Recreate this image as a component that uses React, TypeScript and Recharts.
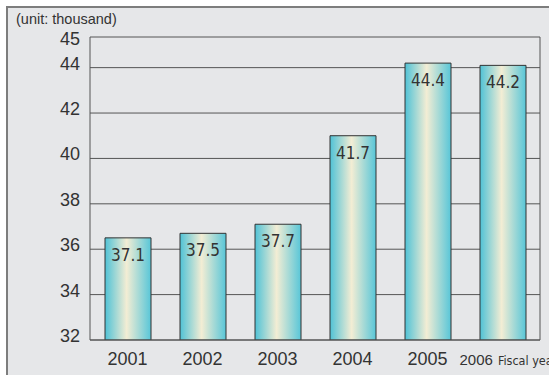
import { Bar, BarChart, CartesianGrid, LabelList, XAxis, YAxis } from 'recharts';

const years = ['2001', '2002', '2003', '2004', '2005', '2006'];
// bar heights as drawn in the picture
const barValues = [36.5, 36.7, 37.1, 41.0, 44.2, 44.1];
// figures printed on the bars
const barLabels = ['37.1', '37.5', '37.7', '41.7', '44.4', '44.2'];
// the frame top is labelled 45 but sits a little above a true 45
const yTop = 45.35;
const yTicks = [32, 34, 36, 38, 40, 42, 44, yTop];

const data = years.map((year, i) => ({
  year,
  value: barValues[i],
  label: barLabels[i],
}));

const ink = '#333';

function XTick({ x, y, payload, index }: any) {
  if (index === years.length - 1) {
    return (
      <text x={x - 43} y={y} dy={25} textAnchor="start" fill={ink} fontFamily="Liberation Sans, Arial, sans-serif">
        <tspan fontSize={15}>{payload.value}</tspan>
        <tspan dx={5} fontSize={12.5} fontFamily="Liberation Sans Narrow, DejaVu Sans Condensed, sans-serif">
          Fiscal year
        </tspan>
      </text>
    );
  }
  return (
    <text x={x} y={y} dy={25} textAnchor="middle" fill={ink} fontSize={18} fontFamily="Liberation Sans, Arial, sans-serif">
      {payload.value}
    </text>
  );
}

function YTick({ x, y, payload }: any) {
  const top = payload.value === yTop;
  return (
    <text x={x} y={y} dy={top ? 8 : 2} textAnchor="end" fill={ink} fontSize={18} fontFamily="Liberation Sans, Arial, sans-serif">
      {Math.round(payload.value)}
    </text>
  );
}

function BarLabel({ x, y, width, value }: any) {
  return (
    <text
      x={x + width / 2}
      y={y + 23}
      textAnchor="middle"
      fill={ink}
      fontSize={17}
      fontFamily="Liberation Sans Narrow, DejaVu Sans Condensed, sans-serif"
    >
      {value}
    </text>
  );
}

export default function App() {
  return (
    <div style={{ position: 'absolute', left: 0, top: 0, width: 549, height: 375, overflow: 'hidden', background: '#fff' }}>
      <div
        style={{
          position: 'absolute',
          left: 6,
          top: 6,
          width: 600,
          height: 400,
          background: '#e6e7e9',
          borderLeft: '2px solid #7d7d7d',
          borderTop: '2px solid #7d7d7d',
        }}
      />
      <div
        style={{
          position: 'absolute',
          left: 16,
          top: 11,
          fontFamily: 'Liberation Sans, Arial, sans-serif',
          fontSize: 14.5,
          color: ink,
        }}
      >
        (unit: thousand)
      </div>
      <div style={{ position: 'absolute', left: 0, top: 0 }}>
        <BarChart width={549} height={375} data={data} margin={{ top: 37, right: 8, bottom: 0, left: 0 }}>
          <defs>
            <linearGradient id="barGrad" x1="0" y1="0" x2="1" y2="0">
              <stop offset="0%" stopColor="#4fc2d6" />
              <stop offset="47%" stopColor="#f3edd4" />
              <stop offset="100%" stopColor="#58c6d8" />
            </linearGradient>
          </defs>
          <CartesianGrid vertical={false} stroke="#555" />
          <XAxis
            dataKey="year"
            height={35}
            tickLine={false}
            tickSize={0}
            tickMargin={0}
            axisLine={{ stroke: '#555' }}
            tick={<XTick />}
            interval={0}
          />
          <YAxis
            width={90}
            domain={[32, yTop]}
            ticks={yTicks}
            interval={0}
            tickLine={false}
            tickSize={0}
            tickMargin={10}
            axisLine={{ stroke: '#555' }}
            tick={<YTick />}
            allowDataOverflow
          />
          <YAxis
            yAxisId="frame"
            orientation="right"
            width={1}
            domain={[32, yTop]}
            tick={false}
            tickLine={false}
            axisLine={{ stroke: '#555' }}
          />
          <Bar dataKey="value" barSize={46} fill="url(#barGrad)" stroke="#333" strokeWidth={1} isAnimationActive={false}>
            <LabelList dataKey="label" content={<BarLabel />} />
          </Bar>
        </BarChart>
      </div>
    </div>
  );
}
